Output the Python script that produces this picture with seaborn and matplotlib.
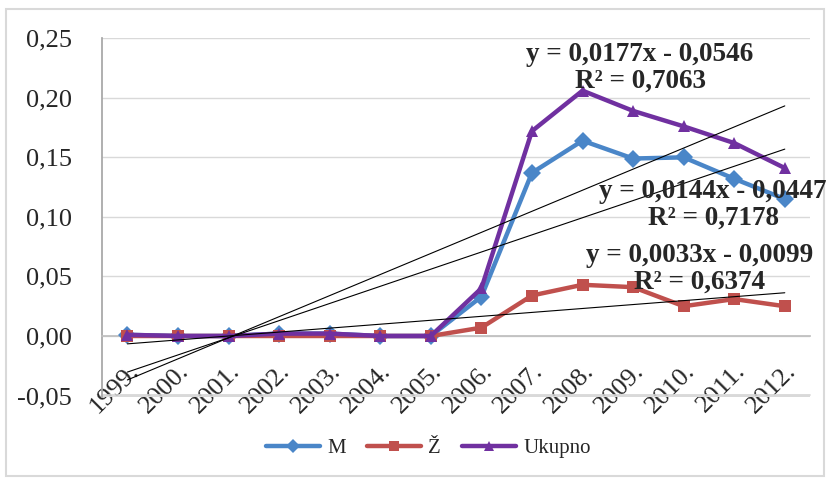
import matplotlib
matplotlib.use("Agg")
import matplotlib.pyplot as plt
import seaborn as sns
import numpy as np
import pandas as pd
from matplotlib.patches import Rectangle

years = ["1999.", "2000.", "2001.", "2002.", "2003.", "2004.", "2005.",
         "2006.", "2007.", "2008.", "2009.", "2010.", "2011.", "2012."]
m_vals = [0.001, 0.000, 0.000, 0.002, 0.002, 0.000, 0.000,
          0.033, 0.137, 0.164, 0.149, 0.150, 0.132, 0.115]
z_vals = [0.000, 0.000, 0.000, 0.000, 0.000, 0.000, 0.000,
          0.007, 0.034, 0.043, 0.041, 0.025, 0.031, 0.025]
u_vals = [0.001, 0.000, 0.000, 0.002, 0.002, 0.000, 0.000,
          0.040, 0.172, 0.206, 0.189, 0.176, 0.162, 0.141]
series_names = ["M", "Ž", "Ukupno"]
colors = ["#4A86C8", "#C0504D", "#7030A0"]
markers = ["D", "s", "^"]
# trendline coefficients (slope, intercept) as printed on chart, x = 1..14
trend_slopes = [0.0144, 0.0033, 0.0177]
trend_intercepts = [-0.0447, -0.0099, -0.0546]
eq_labels = ["y = 0,0144x - 0,0447\nR² = 0,7178",
             "y = 0,0033x - 0,0099\nR² = 0,6374",
             "y = 0,0177x - 0,0546\nR² = 0,7063"]
yticks = [-0.05, 0.0, 0.05, 0.10, 0.15, 0.20, 0.25]

df = pd.DataFrame({
    "year": years * 3,
    "idx": list(range(len(years))) * 3,
    "value": m_vals + z_vals + u_vals,
    "series": [s for s in series_names for _ in years],
})

sns.set_theme(style="white")
plt.rcParams["font.family"] = ["Liberation Serif", "DejaVu Serif"]

fig = plt.figure(figsize=(8.3, 4.78), dpi=100)
ax = fig.add_axes([0.123, 0.170, 0.853, 0.7505])

sns.lineplot(data=df, x="idx", y="value", hue="series", style="series",
             hue_order=series_names, style_order=series_names,
             palette=colors, markers=markers, dashes=False,
             linewidth=3.2, markersize=9, markeredgewidth=0,
             ax=ax, legend=True, zorder=3)

# trend lines
xs = np.arange(1, len(years) + 1)
for s, b in zip(trend_slopes, trend_intercepts):
    ax.plot(xs - 1, s * xs + b, color="black", linewidth=0.8, zorder=4)

for side in ["top", "right"]:
    ax.spines[side].set_visible(False)
ax.spines["left"].set_color("#A6A6A6")
ax.spines["bottom"].set_color("#BFBFBF")
ax.spines["bottom"].set_position(("data", 0))

ax.set_xlim(-0.5, len(years) - 0.5)
ax.set_ylim(-0.051, 0.2502)
ax.set_yticks(yticks)
ax.set_yticklabels([f"{v:.2f}".replace(".", ",") for v in yticks], fontsize=19)
ax.set_xticks(range(len(years)))
ax.set_xticklabels(years, fontsize=19, rotation=45, ha="right",
                   rotation_mode="anchor")
ax.tick_params(axis="x", length=0, pad=17)
ax.tick_params(axis="y", length=0, pad=22)
ax.grid(axis="y", color="#D9D9D9", linewidth=1.0)
ax.set_axisbelow(True)
ax.plot([-0.5, len(years) - 0.5], [-0.0499, -0.0499], color="#D4D4D4",
        linewidth=1.2, zorder=1, clip_on=False)
ax.set_xlabel("")
ax.set_ylabel("")

# equations
eq_pos = [(713, 205), (700, 269), (640, 68)]
for (px, py), lab in zip(eq_pos, eq_labels):
    fig.text(px / 830, 1 - py / 478, lab, ha="center", va="center",
             fontsize=19.5, fontweight="bold", linespacing=1.1, zorder=10)

# legend
handles, labels = ax.get_legend_handles_labels()
for h in handles:
    h.set_linewidth(3.2)
    h.set_markersize(7)
ax.legend_.remove()
fig.legend(handles, labels, loc="center", bbox_to_anchor=(0.516, 1 - 448 / 478),
           ncol=3, frameon=False, fontsize=15, handlelength=2.6,
           columnspacing=1.0, handletextpad=0.35)

# chart border
fig.patches.append(Rectangle((6 / 830, 0.005), 1 - 12 / 830, 1 - 9 / 478 - 0.005,
                             transform=fig.transFigure, fill=False,
                             edgecolor="#D9D9D9", linewidth=1.5))

fig.savefig("out.png", dpi=100)
